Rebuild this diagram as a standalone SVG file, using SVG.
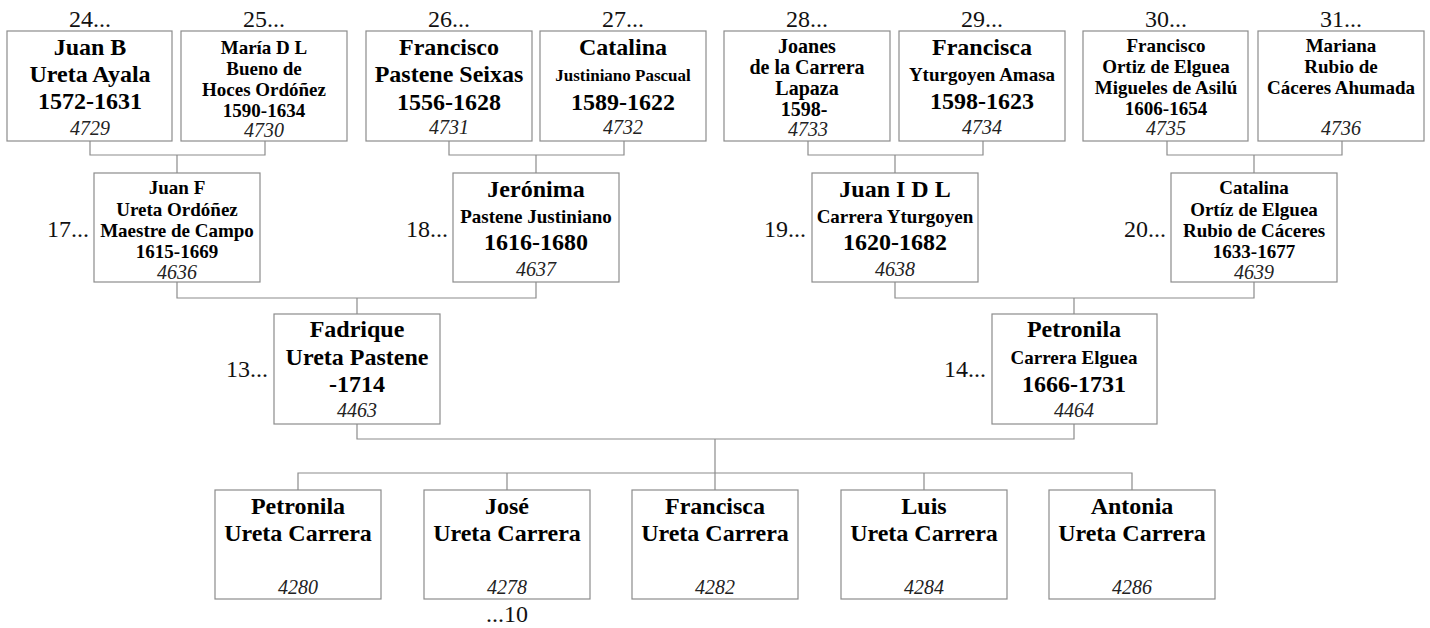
<svg xmlns="http://www.w3.org/2000/svg" width="1430" height="628" viewBox="0 0 1430 628">
<style>
.box{fill:#fff;stroke:#8c8c8c;stroke-width:1.2}
.con{fill:none;stroke:#8c8c8c;stroke-width:1.2}
text{font-family:"Liberation Serif","Times New Roman",serif;fill:#000}
.t{text-anchor:middle}
.b24{font-weight:bold;font-size:24px}
.b20{font-weight:bold;font-size:20px}
.b19{font-weight:bold;font-size:19px}
.b17{font-weight:bold;font-size:17px}
.i{font-style:italic;font-size:20px;fill:#222}
.lab{font-size:24px;fill:#111}
.r{text-anchor:end}
</style>
<g id="connectors">
<path class="con" d="M90 141V155H265V141M177 155V173"/>
<path class="con" d="M449 141V155H624V141M536 155V173"/>
<path class="con" d="M808 141V155H983V141M895 155V173"/>
<path class="con" d="M1167 141V155H1342V141M1254 155V173"/>
<path class="con" d="M177 282V298H536V282M357 298V314"/>
<path class="con" d="M895 282V298H1254V282M1074 298V314"/>
<path class="con" d="M357 424V439H1074V424M715 439V473"/>
<path class="con" d="M298 490V473H1132V490M507 473V490M715 473V490M924 473V490"/>
</g>
<g id="n24"><text class="lab t" x="90" y="27">24...</text><rect class="box" x="7" y="31" width="165" height="110"/>
<text class="t b24" x="90" y="55">Juan B</text><text class="t b24" x="90" y="82">Ureta Ayala</text><text class="t b24" x="90" y="109">1572-1631</text><text class="t i" x="90" y="135">4729</text></g>
<g id="n25"><text class="lab t" x="264" y="27">25...</text><rect class="box" x="181" y="31" width="166" height="110"/>
<text class="t b19" x="264" y="54">María D L</text><text class="t b19" x="264" y="75">Bueno de</text><text class="t b19" x="264" y="96">Hoces Ordóñez</text><text class="t b19" x="264" y="117">1590-1634</text><text class="t i" x="264" y="137">4730</text></g>
<g id="n26"><text class="lab t" x="449" y="27">26...</text><rect class="box" x="366" y="31" width="166" height="110"/>
<text class="t b24" x="449" y="55">Francisco</text><text class="t b24" x="449" y="82">Pastene Seixas</text><text class="t b24" x="449" y="110">1556-1628</text><text class="t i" x="449" y="134">4731</text></g>
<g id="n27"><text class="lab t" x="623" y="27">27...</text><rect class="box" x="540" y="31" width="166" height="110"/>
<text class="t b24" x="623" y="55">Catalina</text><text class="t b17" x="623" y="81">Justiniano Pascual</text><text class="t b24" x="623" y="110">1589-1622</text><text class="t i" x="623" y="134">4732</text></g>
<g id="n28"><text class="lab t" x="807" y="27">28...</text><rect class="box" x="724" y="31" width="166" height="110"/>
<text class="t b20" x="807" y="53">Joanes</text><text class="t b20" x="807" y="74">de la Carrera</text><text class="t b20" x="807" y="95">Lapaza</text><text class="t b20" x="804" y="116">1598-</text><text class="t i" x="808" y="136">4733</text></g>
<g id="n29"><text class="lab t" x="982" y="27">29...</text><rect class="box" x="899" y="31" width="166" height="110"/>
<text class="t b24" x="982" y="55">Francisca</text><text class="t b19" x="982" y="81">Yturgoyen Amasa</text><text class="t b24" x="982" y="109">1598-1623</text><text class="t i" x="982" y="134">4734</text></g>
<g id="n30"><text class="lab t" x="1166" y="27">30...</text><rect class="box" x="1083" y="31" width="165" height="110"/>
<text class="t b19" x="1166" y="52">Francisco</text><text class="t b19" x="1166" y="73">Ortiz de Elguea</text><text class="t b19" x="1166" y="94">Migueles de Asilú</text><text class="t b19" x="1166" y="115">1606-1654</text><text class="t i" x="1166" y="135">4735</text></g>
<g id="n31"><text class="lab t" x="1341" y="27">31...</text><rect class="box" x="1258" y="31" width="166" height="110"/>
<text class="t b19" x="1341" y="52">Mariana</text><text class="t b19" x="1341" y="73">Rubio de</text><text class="t b19" x="1341" y="94">Cáceres Ahumada</text><text class="t i" x="1341" y="135">4736</text></g>
<g id="n17"><text class="lab r" x="89" y="237">17...</text><rect class="box" x="94" y="173" width="166" height="109"/>
<text class="t b19" x="177" y="194">Juan F</text><text class="t b19" x="177" y="216">Ureta Ordóñez</text><text class="t b19" x="177" y="237">Maestre de Campo</text><text class="t b19" x="177" y="258">1615-1669</text><text class="t i" x="177" y="279">4636</text></g>
<g id="n18"><text class="lab r" x="448" y="237">18...</text><rect class="box" x="453" y="173" width="166" height="109"/>
<text class="t b24" x="536" y="197">Jerónima</text><text class="t b19" x="536" y="223">Pastene Justiniano</text><text class="t b24" x="536" y="250">1616-1680</text><text class="t i" x="536" y="276">4637</text></g>
<g id="n19"><text class="lab r" x="806" y="237">19...</text><rect class="box" x="812" y="173" width="166" height="109"/>
<text class="t b24" x="895" y="197">Juan I D L</text><text class="t b19" x="895" y="223">Carrera Yturgoyen</text><text class="t b24" x="895" y="250">1620-1682</text><text class="t i" x="895" y="276">4638</text></g>
<g id="n20"><text class="lab r" x="1166" y="237">20...</text><rect class="box" x="1171" y="173" width="166" height="109"/>
<text class="t b19" x="1254" y="194">Catalina</text><text class="t b19" x="1254" y="216">Ortíz de Elguea</text><text class="t b19" x="1254" y="237">Rubio de Cáceres</text><text class="t b19" x="1254" y="258">1633-1677</text><text class="t i" x="1254" y="279">4639</text></g>
<g id="n13"><text class="lab r" x="268" y="377">13...</text><rect class="box" x="274" y="314" width="166" height="110"/>
<text class="t b24" x="357" y="337">Fadrique</text><text class="t b24" x="357" y="365">Ureta Pastene</text><text class="t b24" x="357" y="392">-1714</text><text class="t i" x="357" y="417">4463</text></g>
<g id="n14"><text class="lab r" x="986" y="377">14...</text><rect class="box" x="992" y="314" width="165" height="110"/>
<text class="t b24" x="1074" y="337">Petronila</text><text class="t b19" x="1074" y="364">Carrera Elguea</text><text class="t b24" x="1074" y="392">1666-1731</text><text class="t i" x="1074" y="417">4464</text></g>
<g id="c4280"><rect class="box" x="215" y="490" width="166" height="109"/>
<text class="t b24" x="298" y="514">Petronila</text><text class="t b24" x="298" y="541">Ureta Carrera</text><text class="t i" x="298" y="594">4280</text></g>
<g id="c4278"><rect class="box" x="424" y="490" width="166" height="109"/>
<text class="t b24" x="507" y="514">José</text><text class="t b24" x="507" y="541">Ureta Carrera</text><text class="t i" x="507" y="594">4278</text><text class="lab t" x="507" y="622">...10</text></g>
<g id="c4282"><rect class="box" x="632" y="490" width="166" height="109"/>
<text class="t b24" x="715" y="514">Francisca</text><text class="t b24" x="715" y="541">Ureta Carrera</text><text class="t i" x="715" y="594">4282</text></g>
<g id="c4284"><rect class="box" x="841" y="490" width="166" height="109"/>
<text class="t b24" x="924" y="514">Luis</text><text class="t b24" x="924" y="541">Ureta Carrera</text><text class="t i" x="924" y="594">4284</text></g>
<g id="c4286"><rect class="box" x="1049" y="490" width="166" height="109"/>
<text class="t b24" x="1132" y="514">Antonia</text><text class="t b24" x="1132" y="541">Ureta Carrera</text><text class="t i" x="1132" y="594">4286</text></g>
</svg>
